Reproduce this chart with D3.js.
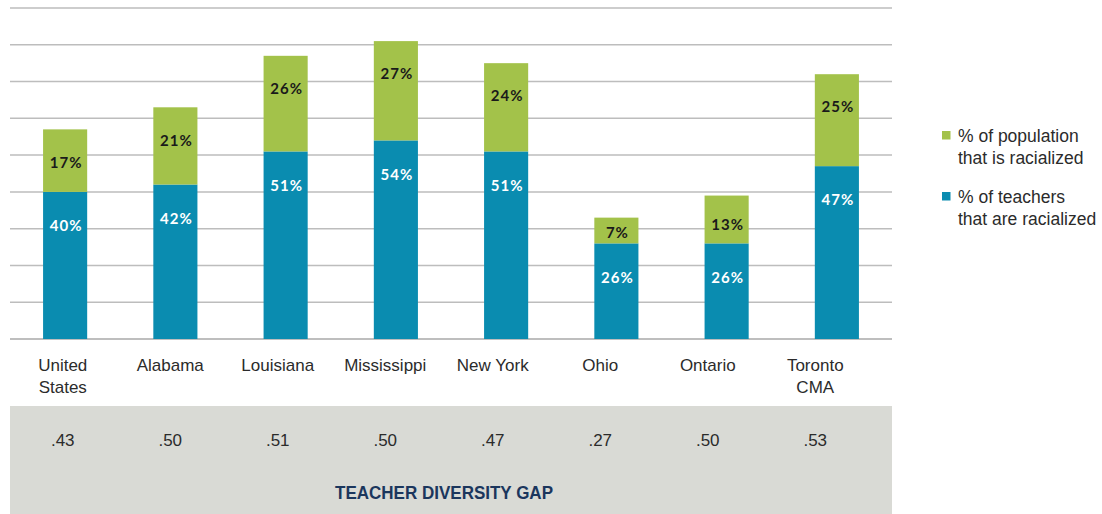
<!DOCTYPE html>
<html>
<head>
<meta charset="utf-8">
<script src="https://cdn.jsdelivr.net/npm/d3@7"></script>
<style>
  body { margin: 0; background: #fff; }
  svg text { font-family: "Liberation Sans", Arial, sans-serif; }
</style>
</head>
<body>
<div id="chart"></div>
<script>
// data
var categories = [["United", "States"], ["Alabama"], ["Louisiana"], ["Mississippi"], ["New York"], ["Ohio"], ["Ontario"], ["Toronto", "CMA"]];
var teachers = [40, 42, 51, 54, 51, 26, 26, 47];
var population = [17, 21, 26, 27, 24, 7, 13, 25];
var gapLabels = [".43", ".50", ".51", ".50", ".47", ".27", ".50", ".53"];
var yTicks = [0, 10, 20, 30, 40, 50, 60, 70, 80, 90];
var legendItems = [
  { lines: ["% of population", "that is racialized"], color: "#a3c24a" },
  { lines: ["% of teachers", "that are racialized"], color: "#0a8cb0" }
];

var svgWidth = 1102;
var svgHeight = 514;

var svg = d3.select("#chart")
  .append("svg")
  .attr("width", svgWidth)
  .attr("height", svgHeight);

var names = categories.map(d => d.join(" "));

// bars
var x = d3.scaleBand()
  .domain(names)
  .range([10, 892])
  .padding(0);

// the text under the bars sits on a slightly tighter spacing
var xText = d3.scaleBand()
  .domain(names)
  .range([9, 869])
  .padding(0);

var y = d3.scaleLinear()
  .domain([0, 90])
  .range([339, 8]);

var barWidth = x.bandwidth() * 0.4;

// gray panel for the gap row
svg.append("rect")
  .attr("x", 10)
  .attr("y", 406)
  .attr("width", 882)
  .attr("height", 108)
  .attr("fill", "#d9dad5");

// gridlines
svg.append("g")
  .selectAll("line")
  .data(yTicks)
  .enter()
  .append("line")
  .attr("x1", 10)
  .attr("x2", 892)
  .attr("y1", d => y(d))
  .attr("y2", d => y(d))
  .attr("stroke", d => d === 0 ? "#a8a8a8" : "#bdbdbd")
  .attr("stroke-width", 1.5);

var rows = names.map((n, i) => ({ name: n, t: teachers[i], p: population[i] }));

var bars = svg.append("g");

// teachers (blue, bottom)
bars.selectAll(".teach")
  .data(rows)
  .enter()
  .append("rect")
  .attr("class", "teach")
  .attr("x", d => x(d.name) + (x.bandwidth() - barWidth) / 2)
  .attr("y", d => y(d.t))
  .attr("width", barWidth)
  .attr("height", d => y(0) - y(d.t))
  .attr("fill", "#0a8cb0");

// population (green, stacked on top)
bars.selectAll(".pop")
  .data(rows)
  .enter()
  .append("rect")
  .attr("class", "pop")
  .attr("x", d => x(d.name) + (x.bandwidth() - barWidth) / 2)
  .attr("y", d => y(d.t + d.p))
  .attr("width", barWidth)
  .attr("height", d => y(d.t) - y(d.t + d.p))
  .attr("fill", "#a3c24a");

// value labels
bars.selectAll(".teachLabel")
  .data(rows)
  .enter()
  .append("text")
  .attr("x", d => x(d.name) + x.bandwidth() / 2 + 1)
  .attr("y", d => y(d.t) + 34)
  .attr("dy", "0.35em")
  .attr("text-anchor", "middle")
  .attr("fill", "#fff")
  .style("font-family", "Lato, sans-serif")
  .style("font-weight", "700")
  .style("font-size", "15px")
  .style("letter-spacing", "1px")
  .text(d => d.t + "%");

bars.selectAll(".popLabel")
  .data(rows)
  .enter()
  .append("text")
  .attr("x", d => x(d.name) + x.bandwidth() / 2 + 1)
  .attr("y", d => {
    var h = y(d.t) - y(d.t + d.p);
    return y(d.t + d.p) + Math.min(33, h * 0.6);
  })
  .attr("dy", "0.35em")
  .attr("text-anchor", "middle")
  .attr("fill", "#1a1a1a")
  .style("font-family", "Lato, sans-serif")
  .style("font-weight", "700")
  .style("font-size", "15px")
  .style("letter-spacing", "1px")
  .text(d => d.p + "%");

// category labels
var catGroup = svg.append("g");
categories.forEach(function(lines, i) {
  var cx = xText(names[i]) + xText.bandwidth() / 2;
  var t = catGroup.append("text")
    .attr("x", cx)
    .attr("y", 371)
    .attr("text-anchor", "middle")
    .attr("fill", "#2b2b2b")
    .style("font-size", "17px");
  lines.forEach(function(l, j) {
    t.append("tspan")
      .attr("x", cx)
      .attr("dy", j === 0 ? 0 : 22)
      .text(l);
  });
});

// gap values
svg.append("g")
  .selectAll("text")
  .data(gapLabels)
  .enter()
  .append("text")
  .attr("x", (d, i) => xText(names[i]) + xText.bandwidth() / 2)
  .attr("y", 446)
  .attr("text-anchor", "middle")
  .attr("fill", "#2b2b2b")
  .style("font-size", "17px")
  .text(d => d);

svg.append("text")
  .attr("x", 444)
  .attr("y", 499)
  .attr("text-anchor", "middle")
  .attr("fill", "#1b365d")
  .attr("textLength", 218)
  .attr("lengthAdjust", "spacingAndGlyphs")
  .style("font-size", "19px")
  .style("font-weight", "700")
  .text("TEACHER DIVERSITY GAP");

// legend
var legend = svg.append("g");
legendItems.forEach(function(item, i) {
  var top = 131 + i * 61;
  legend.append("rect")
    .attr("x", 942)
    .attr("y", top)
    .attr("width", 8.5)
    .attr("height", 8.5)
    .attr("fill", item.color);
  var t = legend.append("text")
    .attr("x", 958)
    .attr("y", top + 11)
    .attr("fill", "#2b2b2b")
    .style("font-size", "17.5px");
  item.lines.forEach(function(l, j) {
    t.append("tspan")
      .attr("x", 958)
      .attr("dy", j === 0 ? 0 : 22)
      .text(l);
  });
});
</script>
</body>
</html>
